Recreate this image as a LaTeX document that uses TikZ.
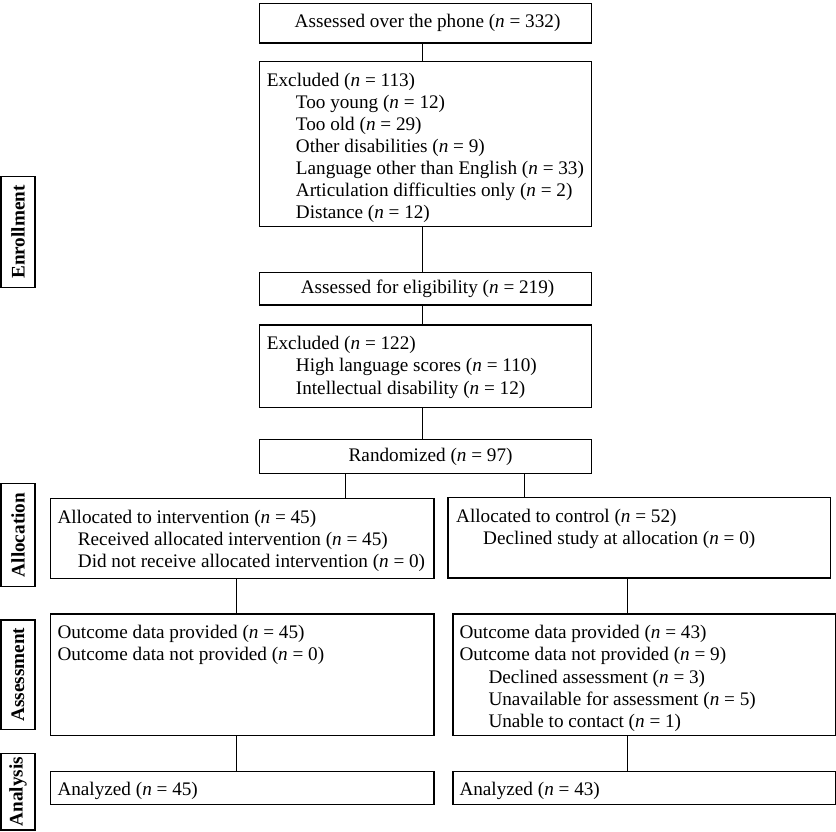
\documentclass[tikz,border=0pt]{standalone}
\usepackage{fontspec}
\setmainfont{Liberation Serif}
\begin{document}
\begin{tikzpicture}[x=1pt,y=-1pt,
  box/.style={draw, line width=1.2pt, inner sep=0pt, anchor=north west},
  txt/.style={inner sep=0pt, align=left, anchor=north west, font=\fontsize{19.2}{22.1}\selectfont},
  ctxt/.style={inner sep=0pt, font=\fontsize{19.2}{22.1}\selectfont},
  side/.style={draw, line width=1.2pt, inner sep=0pt, rotate=90, minimum height=34pt, font=\fontsize{19.2}{22}\selectfont\bfseries},
  conn/.style={line width=1.2pt}]
\useasboundingbox (0,0) rectangle (836,831);
% side labels
\node[side, minimum width=110.6pt] (sEn) at (18,232) {Enrollment};
\node[side, minimum width=103.4pt] (sAl) at (18,535) {Allocation};
\node[side, minimum width=109.3pt] (sAs) at (18,674.7) {Assessment};
\node[side, minimum width=76.7pt] (sAn) at (18,791.7) {Analysis};
% boxes
\node[box, minimum width=332pt, minimum height=39.6pt] (b1) at (259,2.7) {};
\node[box, minimum width=332pt, minimum height=165.3pt] (b2) at (259,60.7) {};
\node[box, minimum width=332pt, minimum height=32.6pt] (b3) at (259,271.7) {};
\node[box, minimum width=332pt, minimum height=82.4pt] (b4) at (259,324.3) {};
\node[box, minimum width=332pt, minimum height=33.7pt] (b5) at (259,439) {};
\node[box, minimum width=383.3pt, minimum height=80pt] (la) at (50,498) {};
\node[box, minimum width=382.7pt, minimum height=80.3pt] (ra) at (447.3,497) {};
\node[box, minimum width=383.3pt, minimum height=121.7pt] (ls) at (50,613.3) {};
\node[box, minimum width=382.7pt, minimum height=121.7pt] (rs) at (452.3,613.3) {};
\node[box, minimum width=383.3pt, minimum height=33.3pt] (ln) at (50,770.7) {};
\node[box, minimum width=382.7pt, minimum height=33.3pt] (rn) at (452.3,770.7) {};
% texts
\node[ctxt] (t1) at ([xshift=2pt]b1.center) {Assessed over the phone (\textit{n} = 332)};
\node[txt] (t2) at ([shift={(7.7,12)}]b2.north west) {Excluded (\textit{n} = 113)\\
\hspace*{29pt}Too young (\textit{n} = 12)\\
\hspace*{29pt}Too old (\textit{n} = 29)\\
\hspace*{29pt}Other disabilities (\textit{n} = 9)\\
\hspace*{29pt}Language other than English (\textit{n} = 33)\\
\hspace*{29pt}Articulation difficulties only (\textit{n} = 2)\\
\hspace*{29pt}Distance (\textit{n} = 12)};
\node[ctxt] (t3) at ([xshift=2pt]b3.center) {Assessed for eligibility (\textit{n} = 219)};
\node[txt] (t4) at ([shift={(7.7,12)}]b4.north west) {Excluded (\textit{n} = 122)\\
\hspace*{29pt}High language scores (\textit{n} = 110)\\
\hspace*{29pt}Intellectual disability (\textit{n} = 12)};
\node[ctxt] (t5) at ([xshift=5pt]b5.center) {Randomized (\textit{n} = 97)};
\node[txt] (t6) at ([shift={(7.3,12)}]la.north west) {Allocated to intervention (\textit{n} = 45)\\
\hspace*{20.4pt}Received allocated intervention (\textit{n} = 45)\\
\hspace*{20.4pt}Did not receive allocated intervention (\textit{n} = 0)};
\node[txt] (t7) at ([shift={(8.7,12)}]ra.north west) {Allocated to control (\textit{n} = 52)\\
\hspace*{27pt}Declined study at allocation (\textit{n} = 0)};
\node[txt] (t8) at ([shift={(7.3,12)}]ls.north west) {Outcome data provided (\textit{n} = 45)\\
Outcome data not provided (\textit{n} = 0)};
\node[txt] (t9) at ([shift={(7,12)}]rs.north west) {Outcome data provided (\textit{n} = 43)\\
Outcome data not provided (\textit{n} = 9)\\
\hspace*{29pt}Declined assessment (\textit{n} = 3)\\
\hspace*{29pt}Unavailable for assessment (\textit{n} = 5)\\
\hspace*{29pt}Unable to contact (\textit{n} = 1)};
\node[ctxt, anchor=west] (t10) at ([shift={(7.3,2.5)}]ln.west) {Analyzed (\textit{n} = 45)};
\node[ctxt, anchor=west] (t11) at ([shift={(7,2.5)}]rn.west) {Analyzed (\textit{n} = 43)};
% connectors
\draw[conn] ([xshift=-3pt]b1.south) -- ([xshift=-3pt]b2.north);
\draw[conn] ([xshift=-3pt]b2.south) -- ([xshift=-3pt]b3.north);
\draw[conn] ([xshift=-3pt]b3.south) -- ([xshift=-3pt]b4.north);
\draw[conn] ([xshift=-3pt]b4.south) -- ([xshift=-3pt]b5.north);
\path ([xshift=86.7pt]b5.south west) coordinate (r1);
\path ([xshift=-67.7pt]b5.south east) coordinate (r2);
\draw[conn] (r1) -- (r1 |- la.north);
\draw[conn] (r2) -- (r2 |- ra.north);
\draw[conn] ([xshift=-6pt]la.south) -- ([xshift=-6pt]la.south |- ls.north);
\draw[conn] ([xshift=-6pt]ls.south) -- ([xshift=-6pt]ln.north);
\draw[conn] ([xshift=-11.5pt]ra.south) -- ([xshift=-11.5pt]ra.south |- rs.north);
\draw[conn] ([xshift=-17pt]rs.south) -- ([xshift=-17pt]rn.north);
\end{tikzpicture}
\end{document}
